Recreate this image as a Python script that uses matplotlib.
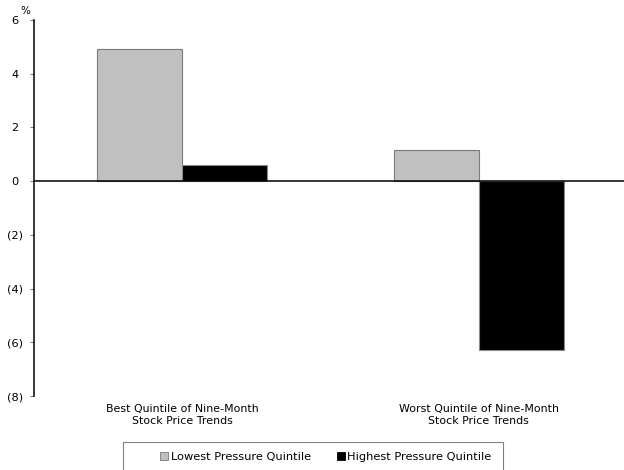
import matplotlib
matplotlib.use("Agg")
import matplotlib.pyplot as plt
import numpy as np
from matplotlib.patches import Rectangle, Patch

# Average return by stock-price-trend quintile (%)
categories = ["Best Quintile of Nine-Month\nStock Price Trends",
              "Worst Quintile of Nine-Month\nStock Price Trends"]
lowest_pressure = [4.92, 1.15]
highest_pressure = [0.61, -6.29]
series_names = ["Lowest Pressure Quintile", "Highest Pressure Quintile"]
y_ticks = [6, 4, 2, 0, -2, -4, -6, -8]
y_tick_labels = ["6 ", "4 ", "2 ", "0 ", "(2)", "(4)", "(6)", "(8)"]

W, H = 624, 470
fig = plt.figure(figsize=(W / 100, H / 100), dpi=100)
ax = fig.add_axes([34 / W, 1 - 396 / H, (624 - 34) / W, (396 - 20) / H])

x = np.arange(len(categories))
bw = 0.287
ax.bar(x - bw / 2, lowest_pressure, bw, color="#c0c0c0", edgecolor="#7a7a7a",
       linewidth=0.8, zorder=2)
ax.bar(x + bw / 2, highest_pressure, bw, color="#000000", edgecolor="#8a8a8a",
       linewidth=0.8, zorder=2)
ax.axhline(0, color="black", linewidth=1.1, zorder=3)

ax.set_xlim(-0.5, 1.49)
ax.set_ylim(-8, 6)
ax.set_yticks(y_ticks)
ax.set_yticklabels(y_tick_labels, fontsize=8.2)
ax.set_xticks(x)
ax.set_xticklabels(categories, fontsize=7.9, linespacing=1.25)
ax.tick_params(axis="x", length=0, pad=6)
ax.tick_params(axis="y", length=3, width=0.8, color="#808080", pad=5)

for s in ["top", "right", "bottom"]:
    ax.spines[s].set_visible(False)
ax.spines["left"].set_linewidth(1.1)

fig.text(25 / W, 1 - 11 / H, "%", fontsize=7.5, ha="center", va="center")

# Legend frame running off the bottom edge
fig.patches.append(Rectangle((123 / W, -0.05), (503 - 123) / W, 0.05 + (470 - 442) / H,
                             transform=fig.transFigure, fill=False,
                             edgecolor="#808080", linewidth=0.8))
handles = [Patch(facecolor="#c0c0c0", edgecolor="#7a7a7a", linewidth=0.6),
           Patch(facecolor="#000000", edgecolor="#000000", linewidth=0.6)]
fig.legend(handles, series_names, loc="center", bbox_to_anchor=(326 / W, 1 - 457 / H),
           ncol=2, frameon=False, fontsize=8.2, handlelength=0.7, handleheight=0.7,
           handletextpad=0.2, columnspacing=2.3)

fig.savefig("out.png", dpi=100)
